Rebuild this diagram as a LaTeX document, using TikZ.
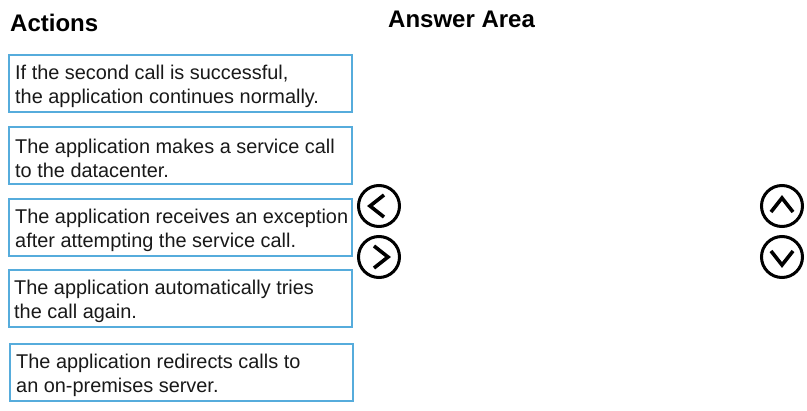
\documentclass[tikz,border=0pt]{standalone}
\usepackage{fontspec}
\setmainfont{Liberation Sans}
\definecolor{boxblue}{RGB}{86,172,220}
\definecolor{txt}{RGB}{25,25,25}
\tikzset{
  title/.style={font=\fontsize{24}{28}\selectfont\bfseries, text=black, inner sep=0, anchor=base west},
  actbox/.style={draw=boxblue, line width=1.6pt, minimum width=343pt, minimum height=57pt,
    inner sep=0pt, anchor=north west},
  acttext/.style={align=left, anchor=west, inner sep=0pt,
    font=\fontsize{19.9}{24.5}\selectfont, text=txt},
  btn/.style={circle, draw=black, line width=3pt, minimum size=41pt, inner sep=0},
  chev/.style={line width=3.6pt, line cap=butt, line join=miter}
}
\begin{document}
\begin{tikzpicture}[x=1pt,y=-1pt]
\useasboundingbox[fill=white] (0,0) rectangle (807,411);
\node[title] (actions) at (10,32) {Actions};
\node[title] (answer) at (388,28) {Answer Area};

\node[actbox] (b1) at (8,54) {};
\node[actbox] (b2) at (8,126) {};
\node[actbox] (b3) at (8,198) {};
\node[actbox] (b4) at (8,269) {};
\node[actbox] (b5) at (9,343) {};

\node[acttext] (t1) at ([shift={(7,3)}]b1.west) {If the second call is successful,\\the application continues normally.};
\node[acttext] (t2) at ([shift={(7,3)}]b2.west) {The application makes a service call\\to the datacenter.};
\node[acttext] (t3) at ([shift={(7,3)}]b3.west) {The application receives an exception\\after attempting the service call.};
\node[acttext] (t4) at ([shift={(6,3)}]b4.west) {The application automatically tries\\the call again.};
\node[acttext] (t5) at ([shift={(7,3)}]b5.west) {The application redirects calls to\\an on-premises server.};

\node[btn] (left) at (379,206) {};
\node[btn] (right) at (379,257) {};
\node[btn] (up) at (782,206) {};
\node[btn] (down) at (782,257) {};

\draw[chev] ([shift={(5,-11)}]left.center) -- ([shift={(-9,0)}]left.center) -- ([shift={(5,11)}]left.center);
\draw[chev] ([shift={(-5,-11)}]right.center) -- ([shift={(9,0)}]right.center) -- ([shift={(-5,11)}]right.center);
\draw[chev] ([shift={(-11,6)}]up.center) -- ([shift={(0,-8)}]up.center) -- ([shift={(11,6)}]up.center);
\draw[chev] ([shift={(-11,-6)}]down.center) -- ([shift={(0,8)}]down.center) -- ([shift={(11,-6)}]down.center);
\end{tikzpicture}
\end{document}
